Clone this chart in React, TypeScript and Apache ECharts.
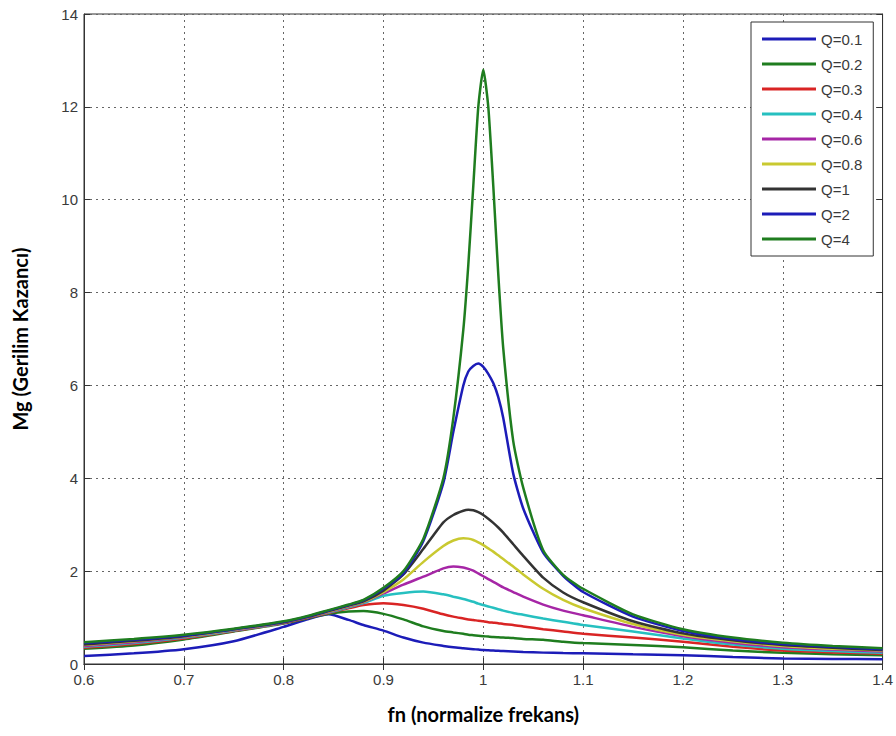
import React, { useEffect, useRef } from "react";
import * as echarts from "echarts";

const fn = [0.6, 0.65, 0.7, 0.75, 0.8, 0.825, 0.845, 0.865, 0.88, 0.9, 0.92, 0.94, 0.96, 0.97, 0.98, 0.985, 0.99, 0.995, 1.0, 1.005, 1.01, 1.015, 1.02, 1.03, 1.04, 1.06, 1.08, 1.1, 1.15, 1.2, 1.25, 1.3, 1.35, 1.4];

const q01 = [0.17, 0.23, 0.32, 0.49, 0.80, 0.97, 1.07, 0.95, 0.84, 0.72, 0.57, 0.46, 0.39, 0.36, 0.34, 0.33, 0.32, 0.31, 0.30, 0.295, 0.29, 0.285, 0.28, 0.27, 0.26, 0.245, 0.235, 0.23, 0.21, 0.19, 0.15, 0.12, 0.11, 0.10];
const q02 = [0.33, 0.40, 0.53, 0.70, 0.87, 0.99, 1.08, 1.13, 1.14, 1.08, 0.96, 0.81, 0.71, 0.68, 0.65, 0.63, 0.62, 0.61, 0.60, 0.59, 0.58, 0.575, 0.57, 0.56, 0.54, 0.52, 0.48, 0.45, 0.41, 0.36, 0.29, 0.24, 0.21, 0.19];
const q03 = [0.35, 0.43, 0.55, 0.71, 0.88, 1.00, 1.10, 1.20, 1.27, 1.31, 1.27, 1.19, 1.07, 1.02, 0.98, 0.96, 0.95, 0.93, 0.92, 0.90, 0.89, 0.88, 0.86, 0.84, 0.81, 0.75, 0.70, 0.65, 0.57, 0.48, 0.37, 0.29, 0.25, 0.22];
const q04 = [0.37, 0.45, 0.57, 0.72, 0.89, 1.01, 1.11, 1.22, 1.31, 1.47, 1.53, 1.56, 1.50, 1.45, 1.40, 1.37, 1.34, 1.30, 1.27, 1.24, 1.21, 1.18, 1.15, 1.10, 1.06, 0.98, 0.91, 0.84, 0.70, 0.55, 0.42, 0.33, 0.28, 0.24];
const q06 = [0.39, 0.47, 0.58, 0.73, 0.89, 1.01, 1.12, 1.24, 1.33, 1.52, 1.71, 1.88, 2.06, 2.10, 2.08, 2.05, 2.01, 1.95, 1.89, 1.83, 1.77, 1.71, 1.65, 1.55, 1.45, 1.28, 1.15, 1.05, 0.80, 0.60, 0.46, 0.36, 0.31, 0.27];
const q08 = [0.41, 0.49, 0.59, 0.74, 0.90, 1.02, 1.13, 1.25, 1.34, 1.55, 1.82, 2.20, 2.54, 2.66, 2.71, 2.70, 2.67, 2.62, 2.56, 2.49, 2.42, 2.34, 2.26, 2.10, 1.93, 1.62, 1.38, 1.20, 0.86, 0.63, 0.49, 0.39, 0.33, 0.29];
const q1 = [0.42, 0.50, 0.60, 0.75, 0.90, 1.02, 1.14, 1.26, 1.35, 1.58, 1.93, 2.48, 3.05, 3.21, 3.30, 3.32, 3.31, 3.27, 3.21, 3.13, 3.04, 2.94, 2.83, 2.58, 2.33, 1.86, 1.54, 1.33, 0.92, 0.66, 0.51, 0.41, 0.35, 0.30];
const q2 = [0.45, 0.52, 0.61, 0.75, 0.91, 1.03, 1.15, 1.27, 1.37, 1.62, 1.95, 2.65, 3.90, 5.00, 6.00, 6.30, 6.42, 6.47, 6.40, 6.25, 6.05, 5.75, 5.30, 4.10, 3.35, 2.40, 1.90, 1.55, 1.02, 0.71, 0.54, 0.43, 0.37, 0.32];
const q4 = [0.47, 0.54, 0.63, 0.76, 0.92, 1.04, 1.16, 1.28, 1.38, 1.64, 2.00, 2.70, 4.00, 5.30, 7.20, 8.60, 10.30, 12.00, 12.80, 12.00, 10.30, 8.40, 6.80, 4.80, 3.80, 2.45, 1.92, 1.62, 1.07, 0.75, 0.57, 0.46, 0.39, 0.34];

const seriesNames = ["Q=0.1", "Q=0.2", "Q=0.3", "Q=0.4", "Q=0.6", "Q=0.8", "Q=1", "Q=2", "Q=4"];
const seriesValues = [q01, q02, q03, q04, q06, q08, q1, q2, q4];
const seriesColors = ["#1c1cb8", "#1f7d1f", "#d92424", "#26c0c0", "#a626a6", "#c9c930", "#333333", "#1c1cb8", "#1f7d1f"];

const xTicks = { min: 0.6, max: 1.4, interval: 0.1 };
const yTicks = { min: 0, max: 14, interval: 2 };

export default function App() {
  const ref = useRef<HTMLDivElement>(null);
  useEffect(() => {
    if (!ref.current) return;
    const chart = echarts.init(ref.current, null, { renderer: "svg" });
    const labelStyle = { color: "#3a3a3a", fontSize: 15, fontFamily: "Liberation Sans, Arial, sans-serif" };
    const axisLine = { show: true, lineStyle: { color: "#333", width: 1 } };
    const grid = { type: [2, 4], color: "#666", width: 1 };
    chart.setOption({
      animation: false,
      backgroundColor: "#ffffff",
      grid: { left: 84, right: 11, top: 14, bottom: 72, show: true, borderColor: "#333", borderWidth: 1, backgroundColor: "transparent" },
      legend: {
        orient: "vertical",
        left: 751,
        top: 22,
        padding: [8, 11, 8, 11],
        itemWidth: 54,
        itemHeight: 3,
        itemGap: 7,
        icon: "rect",
        backgroundColor: "#ffffff",
        borderColor: "#333",
        borderWidth: 1,
        textStyle: { color: "#3a3a3a", fontSize: 15, lineHeight: 18, fontFamily: "Liberation Sans, Arial, sans-serif" },
        data: seriesNames,
      },
      xAxis: [
        {
          type: "value",
          min: xTicks.min,
          max: xTicks.max,
          interval: xTicks.interval,
          name: "fn (normalize frekans)",
          nameLocation: "middle",
          nameGap: 40,
          nameTextStyle: { fontSize: 20, fontWeight: "bold", color: "#000", fontFamily: "Lato, Open Sans, sans-serif" },
          axisLine,
          axisTick: { show: true, inside: true, length: 6, lineStyle: { color: "#333" } },
          axisLabel: { ...labelStyle, margin: 8, formatter: (v: number) => String(Math.round(v * 10) / 10) },
          splitLine: { show: true, lineStyle: grid },
        },
        {
          type: "value",
          position: "top",
          min: xTicks.min,
          max: xTicks.max,
          interval: xTicks.interval,
          axisLine,
          axisTick: { show: true, inside: true, length: 6, lineStyle: { color: "#333" } },
          axisLabel: { show: false },
          splitLine: { show: false },
        },
      ],
      yAxis: [
        {
          type: "value",
          min: yTicks.min,
          max: yTicks.max,
          interval: yTicks.interval,
          name: "Mg (Gerilim Kazancı)",
          nameLocation: "middle",
          nameGap: 54,
          nameRotate: 90,
          nameTextStyle: { fontSize: 20, fontWeight: "bold", color: "#000", fontFamily: "Lato, Open Sans, sans-serif" },
          axisLine,
          axisTick: { show: true, inside: true, length: 6, lineStyle: { color: "#333" } },
          axisLabel: { ...labelStyle, margin: 6 },
          splitLine: { show: true, lineStyle: grid },
        },
        {
          type: "value",
          position: "right",
          min: yTicks.min,
          max: yTicks.max,
          interval: yTicks.interval,
          axisLine,
          axisTick: { show: true, inside: true, length: 6, lineStyle: { color: "#333" } },
          axisLabel: { show: false },
          splitLine: { show: false },
        },
      ],
      series: seriesNames.map((name, i) => ({
        name,
        type: "line",
        xAxisIndex: 0,
        yAxisIndex: 0,
        symbol: "none",
        smooth: 0.2,
        color: seriesColors[i],
        lineStyle: { width: 2.5, color: seriesColors[i] },
        data: fn.map((x, j) => [x, seriesValues[i][j]]),
        z: 2 + i,
      })),
    });
    return () => chart.dispose();
  }, []);
  return <div ref={ref} style={{ position: "fixed", left: 0, top: 0, width: 896, height: 736, background: "#fff" }} />;
}
